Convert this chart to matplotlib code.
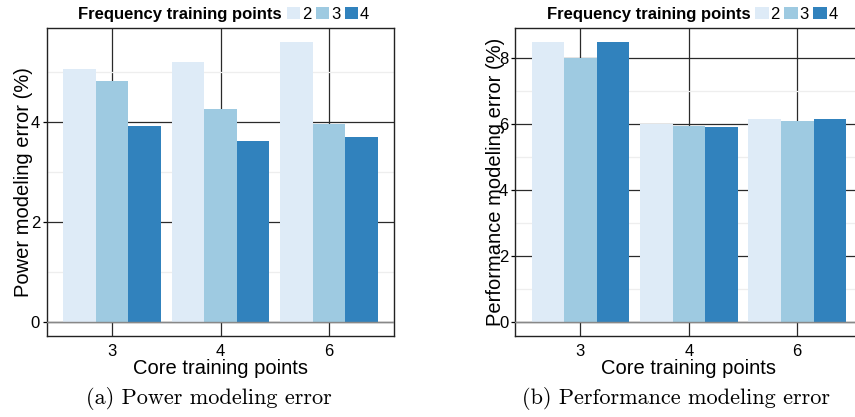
import matplotlib
matplotlib.use('Agg')
import matplotlib.pyplot as plt
import numpy as np
from matplotlib.patches import Patch
from matplotlib.ticker import MultipleLocator

plt.rcParams['font.family'] = ['Liberation Sans', 'DejaVu Sans']

cores = ['3', '4', '6']
freq_labels = ['2', '3', '4']
power_f2 = [5.05, 5.19, 5.59]
power_f3 = [4.81, 4.26, 3.96]
power_f4 = [3.92, 3.62, 3.70]
perf_f2 = [8.49, 6.01, 6.16]
perf_f3 = [8.00, 5.95, 6.10]
perf_f4 = [8.49, 5.92, 6.16]
colors = ['#deebf7', '#9ecae1', '#3182bd']

W, H = 855, 417
fig = plt.figure(figsize=(W / 100, H / 100), dpi=100)


def panel(px, series, ylabel, caption, cap_x, label_x):
    x0, y0, x1, y1 = px
    ax = fig.add_axes([x0 / W, 1 - y1 / H, (x1 - x0) / W, (y1 - y0) / H])
    xs = np.arange(len(cores))
    bw = 0.3
    for i, (vals, c) in enumerate(zip(series, colors)):
        ax.bar(xs + (i - 1) * bw, vals, bw, color=c, zorder=2, linewidth=0)
    m = max(max(s) for s in series)
    ax.set_ylim(-0.05 * m, 1.05 * m)
    ax.set_xlim(-0.6, 2.6)
    ax.set_xticks(xs)
    ax.set_xticklabels(cores)
    ax.yaxis.set_major_locator(MultipleLocator(2))
    ax.yaxis.set_minor_locator(MultipleLocator(1))
    ax.grid(True, which='major', axis='both', color='#2a2a2a', lw=0.9, zorder=0)
    ax.grid(True, which='minor', axis='y', color='#eeeeee', lw=0.9, zorder=0)
    ax.set_axisbelow(True)
    ax.axhline(0, color='#888888', lw=1.0, zorder=3)
    ax.tick_params(axis='x', length=0, pad=5.5, labelsize=12)
    ax.tick_params(axis='y', which='major', length=3, width=0.9, pad=2, labelsize=12)
    ax.tick_params(axis='y', which='minor', length=0)
    for s in ax.spines.values():
        s.set_color('#222222')
        s.set_linewidth(1.0)
    ax.set_xlabel('Core training points', fontsize=14.5, labelpad=0)
    ax.set_ylabel(ylabel, fontsize=14.5)
    ax.yaxis.set_label_coords(label_x, 0.5)
    cx = (x0 + x1) / 2
    fig.text((cx + 61.5) / W, 1 - 14.3 / H, 'Frequency training points',
             fontsize=12, fontweight='bold', ha='right', va='center')
    handles = [Patch(facecolor=c, edgecolor='none', label=l) for c, l in zip(colors, freq_labels)]
    fig.legend(handles=handles, ncol=3, loc='center left',
               bbox_to_anchor=((cx + 66.5) / W, 1 - 14.3 / H), frameon=False,
               borderpad=0, borderaxespad=0, handlelength=0.8, handleheight=0.8,
               handletextpad=0.1, columnspacing=0.28, fontsize=12)
    fig.text(cap_x / W, 1 - 398 / H, caption, family='cmr10', fontsize=16,
             ha='center', va='center')
    return ax


panel((47, 28, 394, 336), [power_f2, power_f3, power_f4],
      'Power modeling error (%)', '(a) Power modeling error', 209, -0.04)
panel((515.3, 28, 862.3, 336), [perf_f2, perf_f3, perf_f4],
      'Performance modeling error (%)', '(b) Performance modeling error', 676, -0.03)

fig.savefig('out.png', dpi=100)
